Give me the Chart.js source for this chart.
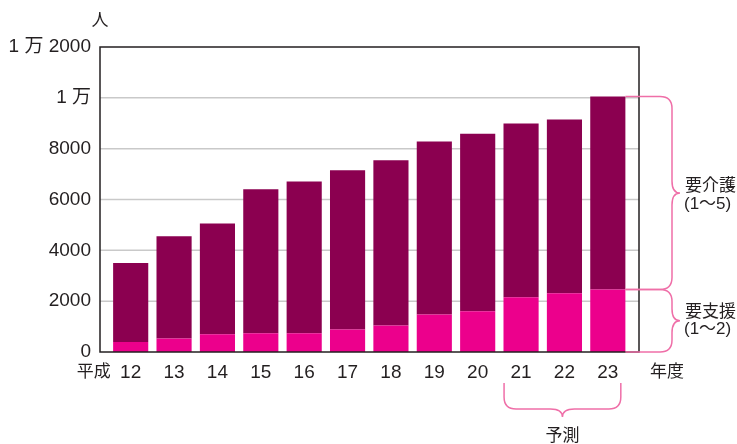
<!DOCTYPE html>
<html>
<head>
<meta charset="utf-8">
<script src="https://cdn.jsdelivr.net/npm/chart.js@4"></script>
<style>
  body { margin: 0; background: #fff; }
  canvas { display: block; }
</style>
</head>
<body>
<canvas id="careChart" width="737" height="444"></canvas>
<script>
// 年度 (平成)
const years = ['12', '13', '14', '15', '16', '17', '18', '19', '20', '21', '22', '23'];
// 要支援（1～2）
const shienValues = [390, 530, 700, 740, 740, 890, 1040, 1480, 1600, 2150, 2310, 2460];
// 要介護（1～5）
const kaigoValues = [3110, 4020, 4360, 5660, 5970, 6260, 6500, 6800, 6990, 6840, 6840, 7590];
const yTicks = [0, 2000, 4000, 6000, 8000, 10000, 12000];
const yTickLabels = ['0', '2000', '4000', '6000', '8000', '1 万', '1 万 2000'];
const forecastYears = ['21', '22', '23'];

const FONT = "'Liberation Sans', 'Noto Sans CJK JP', sans-serif";
const TEXT = '#231F20';
const BRACE = '#EF6FA8';

function rightBrace(ctx, xStart, xv, yTop, yMid, yBot, r, tip) {
    ctx.beginPath();
    ctx.moveTo(xStart, yTop);
    ctx.lineTo(xv - r, yTop);
    ctx.quadraticCurveTo(xv, yTop, xv, yTop + r);
    ctx.lineTo(xv, yMid - r);
    ctx.quadraticCurveTo(xv, yMid, xv + tip, yMid);
    ctx.quadraticCurveTo(xv, yMid, xv, yMid + r);
    ctx.lineTo(xv, yBot - r);
    ctx.quadraticCurveTo(xv, yBot, xv - r, yBot);
    ctx.lineTo(xStart, yBot);
    ctx.stroke();
}

function bottomBrace(ctx, xLeft, xRight, yStart, yh, r, tip) {
    const xMid = (xLeft + xRight) / 2;
    ctx.beginPath();
    ctx.moveTo(xLeft, yStart);
    ctx.lineTo(xLeft, yh - r);
    ctx.quadraticCurveTo(xLeft, yh, xLeft + r, yh);
    ctx.lineTo(xMid - r, yh);
    ctx.quadraticCurveTo(xMid, yh, xMid, yh + tip);
    ctx.quadraticCurveTo(xMid, yh, xMid + r, yh);
    ctx.lineTo(xRight - r, yh);
    ctx.quadraticCurveTo(xRight, yh, xRight, yh - r);
    ctx.lineTo(xRight, yStart);
    ctx.stroke();
}

const framePlugin = {
    id: 'frame',
    beforeDatasetsDraw(chart) {
        const ctx = chart.ctx;
        const area = chart.chartArea;
        const y = chart.scales.y;
        const left = area.left - 9, right = area.right + 9.5;
        ctx.save();
        ctx.strokeStyle = '#C9C9C9';
        ctx.lineWidth = 1.5;
        yTicks.slice(1, -1).forEach(function(v) {
            const py = y.getPixelForValue(v);
            ctx.beginPath();
            ctx.moveTo(left, py);
            ctx.lineTo(right, py);
            ctx.stroke();
        });
        ctx.restore();
    },
    afterDatasetsDraw(chart) {
        const ctx = chart.ctx;
        const area = chart.chartArea;
        const x = chart.scales.x;
        const y = chart.scales.y;
        const left = area.left - 9, right = area.right + 9.5;
        ctx.save();

        // box
        ctx.strokeStyle = TEXT;
        ctx.lineWidth = 1.5;
        ctx.strokeRect(left, y.getPixelForValue(12000), right - left, y.getPixelForValue(0) - y.getPixelForValue(12000));

        // braces on the right, taken from the last bar
        const last = years.length - 1;
        const bar = chart.getDatasetMeta(1).data[last];
        const barRight = bar.x + bar.width / 2;
        const yTotal = y.getPixelForValue(shienValues[last] + kaigoValues[last]);
        const yShien = y.getPixelForValue(shienValues[last]);
        const yZero = y.getPixelForValue(0);
        ctx.strokeStyle = BRACE;
        ctx.lineWidth = 1.5;
        rightBrace(ctx, barRight, 672, yTotal, (yTotal + yShien) / 2, yShien, 12, 8);
        rightBrace(ctx, barRight, 672, yShien, (yShien + yZero) / 2, yZero, 12, 8);

        // forecast brace
        const xL = x.getPixelForValue(years.indexOf(forecastYears[0])) - 17;
        const xR = x.getPixelForValue(years.indexOf(forecastYears[forecastYears.length - 1])) + 13;
        bottomBrace(ctx, xL, xR, 383, 409, 12, 8);

        // texts
        ctx.fillStyle = TEXT;
        ctx.font = '17px ' + FONT;
        ctx.textBaseline = 'middle';
        ctx.textAlign = 'left';
        ctx.fillText('要介護', 685, 186);
        ctx.fillText('(1～5)', 684, 204);
        ctx.fillText('要支援', 685, 312);
        ctx.fillText('(1～2)', 684, 329);
        ctx.textAlign = 'center';
        ctx.fillText('予測', (xL + xR) / 2, 436);
        ctx.fillText('人', left, 21);
        ctx.fillText('年度', 667, 372);
        ctx.fillText('平成', x.getPixelForValue(0) - 37, 372);
        ctx.restore();
    }
};

const ctx = document.getElementById('careChart').getContext('2d');
new Chart(ctx, {
    type: 'bar',
    data: {
        labels: years,
        datasets: [{
            label: '要支援（1～2）',
            data: shienValues,
            backgroundColor: '#EC008C',
            categoryPercentage: 1,
            barPercentage: 0.81
        }, {
            label: '要介護（1～5）',
            data: kaigoValues,
            backgroundColor: '#8B0050',
            categoryPercentage: 1,
            barPercentage: 0.81
        }]
    },
    options: {
        responsive: false,
        animation: false,
        layout: { padding: { top: 47, right: 107.5, bottom: 0, left: 0 } },
        plugins: { legend: { display: false }, tooltip: { enabled: false } },
        scales: {
            x: {
                stacked: true,
                grid: { display: false, drawTicks: false },
                border: { display: false },
                ticks: { color: TEXT, font: { family: FONT, size: 19 }, padding: 9, maxRotation: 0 },
                afterFit(scale) { scale.height = 92; }
            },
            y: {
                stacked: true,
                min: 0,
                max: 12000,
                grid: { display: false, drawTicks: false },
                border: { display: false },
                afterBuildTicks(scale) { scale.ticks = yTicks.map(v => ({ value: v })); },
                ticks: {
                    color: TEXT,
                    font: { family: FONT, size: 19 },
                    padding: 18,
                    callback: function(v) { return yTickLabels[yTicks.indexOf(v)]; }
                },
                afterFit(scale) { scale.width = 109; }
            }
        }
    },
    plugins: [framePlugin]
});
</script>
</body>
</html>
